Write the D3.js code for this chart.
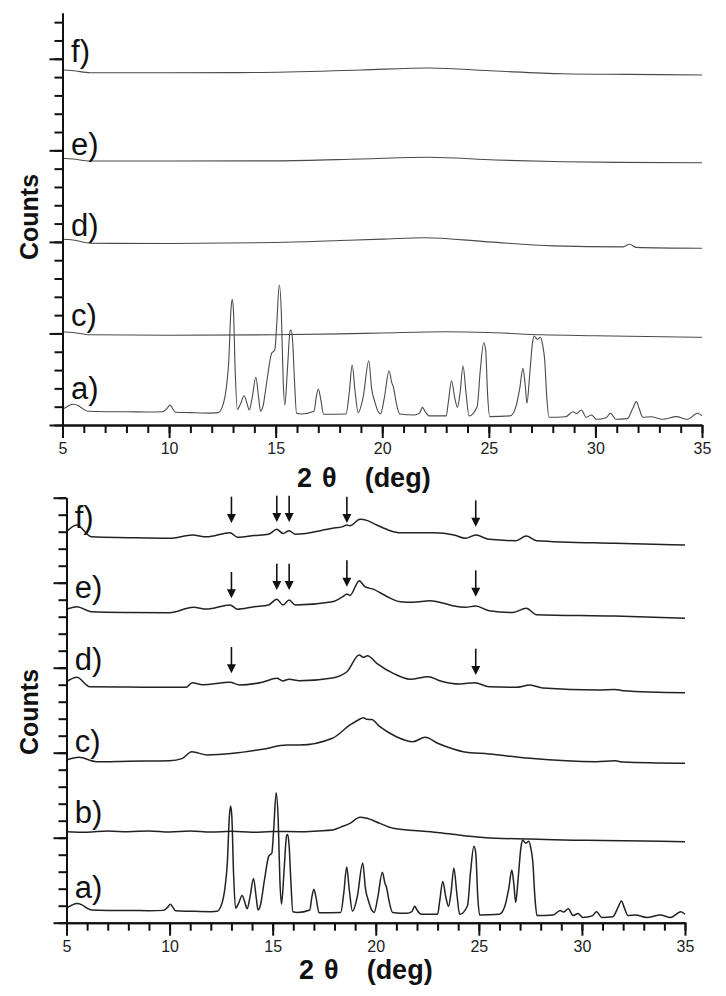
<!DOCTYPE html>
<html><head><meta charset="utf-8">
<script src="https://cdn.jsdelivr.net/npm/d3@7"></script>
<style>body{margin:0;background:#fff}svg{display:block}</style>
</head><body>
<script>
// ---------- data (2θ in degrees, intensity in counts) ----------
const xTicksMajor = [5, 10, 15, 20, 25, 30, 35];
const xTicksMinor = d3.range(5, 36, 1);

const seriesA = [[5.0,171],[5.25,205],[5.5,226],[5.75,210],[6.0,170],[6.2,150],[7,145],[8,145],[9,142],[9.7,145],[9.9,180],[10.04,218],[10.15,185],[10.3,140],[11,135],[12,130],[12.3,135],[12.5,200],[12.7,437],[12.8,700],[12.9,1250],[12.96,1373],[13.02,1250],[13.1,600],[13.2,171],[13.35,230],[13.52,320],[13.65,240],[13.76,164],[13.9,300],[14.07,521],[14.2,300],[14.29,150],[14.4,200],[14.6,500],[14.81,783],[14.96,819],[15.05,1100],[15.17,1529],[15.27,1200],[15.35,500],[15.43,218],[15.55,600],[15.68,1030],[15.73,1037],[15.8,900],[15.88,500],[15.98,128],[16.2,120],[16.8,150],[16.9,300],[17.0,393],[17.1,300],[17.25,117],[18.3,120],[18.45,350],[18.59,655],[18.72,380],[18.87,134],[19.1,300],[19.37,702],[19.5,400],[19.65,255],[19.8,150],[19.92,120],[20.1,300],[20.32,593],[20.45,460],[20.52,418],[20.65,250],[20.82,120],[21.5,110],[21.75,130],[21.89,193],[22.0,150],[22.2,100],[23.0,100],[23.1,250],[23.25,484],[23.4,300],[23.53,193],[23.65,350],[23.79,644],[23.93,350],[24.07,98],[24.45,200],[24.6,600],[24.76,899],[24.85,820],[24.95,300],[25.04,91],[26.0,100],[26.26,193],[26.45,400],[26.6,619],[26.7,450],[26.79,237],[26.9,500],[27.05,900],[27.12,972],[27.28,936],[27.42,958],[27.52,880],[27.62,710],[27.72,300],[27.82,84],[28.6,90],[28.95,145],[29.1,125],[29.34,164],[29.57,84],[29.81,109],[30.05,62],[30.5,80],[30.71,128],[30.96,62],[31.5,70],[31.75,180],[31.92,255],[32.05,180],[32.23,84],[32.6,90],[33.15,62],[33.8,91],[34.3,62],[34.8,128],[35.0,100]];

// top panel
const topC = [[5,1019],[5.5,1010],[6.3,985],[10,980],[15,985],[18,995],[20,1005],[23,1018],[25,1010],[27.5,985],[30,975],[35,958]];
const topD = [[5,2028],[5.5,2020],[6.3,1985],[10,1982],[15,1993],[18,2015],[20,2030],[22,2046],[25,2000],[28,1957],[31.3,1945],[31.6,1975],[31.9,1940],[35,1930]];
const topE = [[5,2913],[5.5,2905],[6.3,2883],[10,2883],[15,2885],[19,2905],[22.2,2924],[25.3,2894],[28.5,2876],[31,2868],[35,2865]];
const topF = [[5,3877],[5.5,3870],[6.3,3848],[10,3848],[14,3850],[19,3877],[22.2,3899],[25.3,3866],[28.5,3837],[31.5,3830],[35,3823]];
const topLabels = ["f)", "e)", "d)", "c)", "a)"];
const topLabelCounts = [3965, 2949, 2064, 1081, 284];

// bottom panel
const botB = [[5,1071],[6,1065],[7,1078],[8,1070],[9,1080],[10,1068],[11,1079],[12,1066],[13,1075],[14,1064],[15,1072],[16.3,1071],[17.2,1080],[17.9,1090],[18.27,1122],[18.75,1169],[19.24,1240],[19.57,1228],[20.2,1169],[20.85,1110],[22,1082],[23.1,1059],[24.4,1020],[25.85,993],[27.5,985],[29.1,973],[31,968],[33,960],[35,953]];
const botC = [[5,1914],[5.6,1946],[6.46,1894],[8,1900],[10,1906],[10.6,1930],[11.07,2012],[11.4,1995],[11.8,1973],[13.1,1993],[14.5,2040],[15.7,2090],[16.3,2090],[17.9,2170],[18.75,2326],[19.15,2385],[19.4,2410],[19.57,2393],[19.8,2390],[20.2,2306],[21.0,2188],[21.8,2129],[22.4,2181],[23.0,2111],[23.8,2040],[24.24,2012],[25.5,1985],[27.47,1934],[30.7,1894],[31.6,1905],[32,1890],[35,1875]];
const botD = [[5,2835],[5.5,2887],[6.13,2776],[8,2772],[10.8,2769],[11.1,2824],[11.6,2800],[12.93,2828],[13.4,2796],[14.5,2830],[15.2,2875],[15.5,2845],[15.8,2864],[16.3,2847],[17.9,2880],[18.6,2953],[19.2,3149],[19.4,3122],[19.6,3141],[20.05,3052],[20.85,2934],[21.66,2864],[22.55,2894],[23.1,2847],[24.08,2808],[24.8,2824],[25.5,2776],[26.8,2769],[27.48,2796],[28.1,2760],[30.8,2738],[31.6,2745],[32,2730],[35,2706]];
const botE = [[5,3687],[5.5,3718],[6.2,3659],[8,3650],[10,3647],[11.15,3711],[11.8,3690],[12.93,3738],[13.3,3687],[14.1,3718],[14.8,3738],[15.2,3805],[15.5,3738],[15.8,3796],[16.1,3738],[17.9,3776],[18.4,3835],[18.6,3867],[18.75,3850],[19.2,4024],[19.47,3953],[19.9,3922],[20.5,3843],[21.2,3776],[21.8,3770],[22.65,3788],[23.3,3758],[23.8,3726],[24.35,3711],[24.85,3726],[25.5,3670],[26.65,3650],[27.3,3699],[27.8,3624],[31.6,3608],[35,3581]];
const botF = [[5,4600],[5.5,4679],[6.2,4541],[8,4530],[10,4522],[11.1,4561],[11.8,4540],[12.93,4588],[13.3,4535],[14.1,4555],[14.8,4570],[15.2,4628],[15.5,4580],[15.8,4612],[16.1,4570],[17.9,4640],[18.4,4660],[18.6,4679],[18.75,4670],[19.24,4746],[19.6,4730],[20.05,4679],[20.7,4612],[21.2,4588],[22.8,4588],[23.8,4561],[24.35,4522],[24.85,4561],[25.5,4510],[26.8,4494],[27.3,4549],[27.8,4494],[31.6,4463],[35,4444]];
const botLabels = ["f)", "e)", "d)", "c)", "b)", "a)"];
const botLabelCounts = [4643, 3820, 2973, 2008, 1173, 291];

// arrows: 2θ position and tip intensity
const arrowF = [[13.0,4702],[15.2,4714],[15.8,4714],[18.6,4702],[24.85,4658]];
const arrowE = [[13.0,3816],[15.2,3914],[15.8,3914],[18.6,3953],[24.85,3835]];
const arrowD = [[13.0,2934],[24.85,2914]];

// ---------- drawing ----------
const W = 726, H = 996;
const svg = d3.select("body").append("svg").attr("width", W).attr("height", H);
const FONT = "'Liberation Sans', Arial, Helvetica, sans-serif";

function panel(cfg) {
  const x = d3.scaleLinear().domain([5, 35]).range(cfg.xr);
  const y = d3.scaleLinear().domain([0, cfg.ymax]).range(cfg.yr);
  const g = svg.append("g");

  const line = d3.line().x(d => x(d[0])).y(d => y(d[1])).curve(d3.curveMonotoneX);
  cfg.series.forEach(s => {
    g.append("path").datum(s).attr("d", line)
      .attr("fill", "none").attr("stroke", cfg.stroke).attr("stroke-width", cfg.sw)
      .attr("stroke-linejoin", "round");
  });

  // x axis: minor + major
  const xMinor = d3.axisBottom(x).tickValues(xTicksMinor).tickSize(8).tickSizeOuter(0).tickFormat("");
  const xMajor = d3.axisBottom(x).tickValues(xTicksMajor).tickSize(13).tickSizeOuter(0).tickPadding(5);
  const gx1 = g.append("g").attr("transform", `translate(0,${cfg.yr[0]})`).call(xMinor);
  const gx2 = g.append("g").attr("transform", `translate(0,${cfg.yr[0]})`).call(xMajor);
  // y axis: minor + major
  const yMinor = d3.axisLeft(y).tickValues(d3.range(0, cfg.ymax + 1, 200)).tickSize(8).tickSizeOuter(0).tickFormat("");
  const yMajor = d3.axisLeft(y).tickValues(d3.range(0, cfg.ymax + 1, 1000)).tickSize(13).tickSizeOuter(0).tickFormat("");
  const gy1 = g.append("g").attr("transform", `translate(${cfg.xr[0]},0)`).call(yMinor);
  const gy2 = g.append("g").attr("transform", `translate(${cfg.xr[0]},0)`).call(yMajor);
  [gx1, gx2, gy1, gy2].forEach(a => {
    a.selectAll("path.domain").attr("stroke", "#111").attr("stroke-width", 2);
    a.selectAll(".tick line").attr("stroke", "#111").attr("stroke-width", 2);
  });
  gx2.selectAll(".tick text").attr("font-family", FONT).attr("font-size", 16).attr("fill", "#222");

  // labels
  cfg.labels.forEach((t, i) => {
    g.append("text").attr("x", x(5.4)).attr("y", y(cfg.labelCounts[i]))
      .attr("font-family", FONT).attr("font-size", 31).attr("fill", "#111").text(t);
  });

  // arrows
  cfg.arrows.forEach(a => {
    a.forEach(p => {
      const xt = x(p[0]), yt = y(p[1]), ys = y(p[1] + 310);
      g.append("line").attr("x1", xt).attr("x2", xt).attr("y1", ys).attr("y2", yt - 6)
        .attr("stroke", "#111").attr("stroke-width", 1.6);
      g.append("path").attr("d", `M${xt - 4.5},${yt - 9}L${xt + 4.5},${yt - 9}L${xt},${yt}Z`).attr("fill", "#111");
    });
  });

  // axis titles
  const t = g.append("text").attr("x", cfg.titleX).attr("y", cfg.titleY)
    .attr("font-family", FONT).attr("font-size", 27).attr("font-weight", "bold").attr("fill", "#111");
  t.append("tspan").text("2");
  t.append("tspan").attr("dx", 10).text("θ");
  t.append("tspan").attr("dx", 28).text("(deg)");
  g.append("text").attr("transform", `translate(38,${cfg.countsY}) rotate(-90)`).attr("text-anchor", "middle")
    .attr("font-family", FONT).attr("font-size", 25).attr("font-weight", "bold").attr("fill", "#111").text("Counts");
}

panel({ xr: [62.5, 702], yr: [425, 13], ymax: 4500, series: [seriesA, topC, topD, topE, topF],
  stroke: "#4a4a4a", sw: 1.1, labels: topLabels, labelCounts: topLabelCounts, arrows: [],
  titleX: 297, titleY: 487, countsY: 217 });
panel({ xr: [66.5, 685], yr: [922.7, 497.7], ymax: 5000, series: [seriesA, botB, botC, botD, botE, botF],
  stroke: "#222", sw: 1.5, labels: botLabels, labelCounts: botLabelCounts, arrows: [arrowF, arrowE, arrowD],
  titleX: 299, titleY: 979, countsY: 712 });
</script>
</body></html>
